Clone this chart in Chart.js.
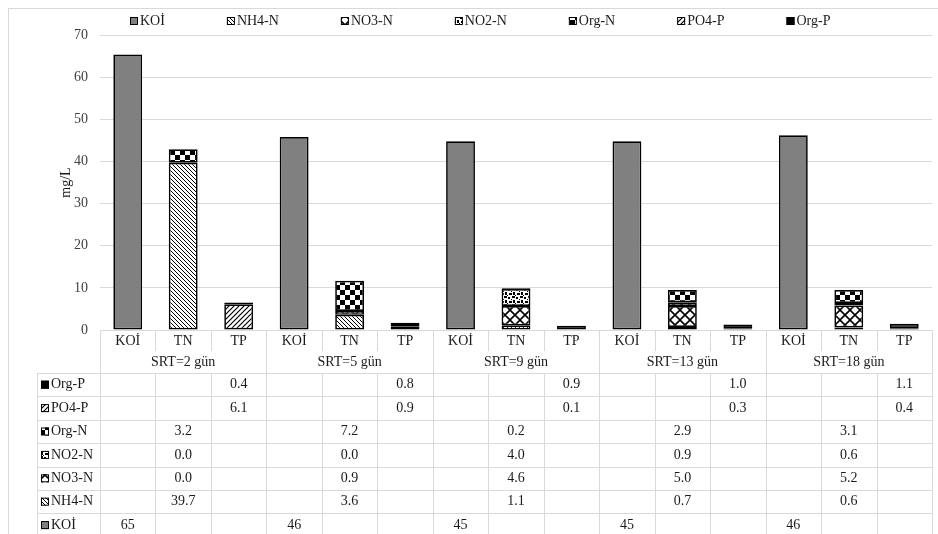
<!DOCTYPE html>
<html>
<head>
<meta charset="utf-8">
<script src="https://cdn.jsdelivr.net/npm/chart.js@4.4.1/dist/chart.umd.min.js"></script>
<style>
  html, body { margin: 0; padding: 0; background: #fff; }
  #wrap { width: 938px; height: 534px; }
</style>
</head>
<body>
<div id="wrap"><canvas id="chart"></canvas></div>
<script>
// data
const groups = ['SRT=2 gün', 'SRT=5 gün', 'SRT=9 gün', 'SRT=13 gün', 'SRT=18 gün'];
const subLabels = ['KOİ', 'TN', 'TP'];
const koi  = [65.4, 45.8, 44.8, 44.8, 46.2];
const nh4n = [39.7, 3.6, 1.1, 0.7, 0.6];
const no3n = [0.0, 0.9, 4.6, 5.0, 5.2];
const no2n = [0.0, 0.0, 4.0, 0.9, 0.6];
const orgN = [3.2, 7.2, 0.2, 2.9, 3.1];
const po4p = [6.1, 0.9, 0.1, 0.3, 0.4];
const orgP = [0.4, 0.8, 0.9, 1.0, 1.1];

const FONT = 'Liberation Serif';
const TEXT = '#1a1a1a';
const GRID = '#d9d9d9';

// fill patterns like the excel ones
function makePattern(size, drawFn) {
    const c = document.createElement('canvas');
    c.width = size; c.height = size;
    const g = c.getContext('2d');
    g.fillStyle = '#fff';
    g.fillRect(0, 0, size, size);
    g.strokeStyle = '#000';
    g.fillStyle = '#000';
    drawFn(g, size);
    return document.createElement('canvas').getContext('2d').createPattern(c, 'repeat');
}

const patNH4 = makePattern(4, (g, s) => {
    g.lineWidth = 1;
    g.beginPath();
    g.moveTo(-1, -1); g.lineTo(s + 1, s + 1);
    g.moveTo(-1, s - 1); g.lineTo(1, s + 1);
    g.moveTo(s - 1, -1); g.lineTo(s + 1, 1);
    g.stroke();
});
const patNO3 = makePattern(10, (g, s) => {
    g.lineWidth = 1.6;
    g.beginPath();
    g.moveTo(0, 0); g.lineTo(s, s);
    g.moveTo(s, 0); g.lineTo(0, s);
    g.stroke();
});
// confetti-like dots
const patNO2 = makePattern(8, (g, s) => {
    g.fillRect(0, 0, 3, 2);
    g.fillRect(4, 1, 2, 2);
    g.fillRect(1, 4, 2, 3);
    g.fillRect(5, 5, 3, 2);
    g.fillRect(7, 3, 1, 1);
    g.fillRect(3, 7, 1, 1);
});
const patOrgN = makePattern(10, (g, s) => {
    g.fillRect(0, 0, 5, 5);
    g.fillRect(5, 5, 5, 5);
});
const patPO4 = makePattern(5, (g, s) => {
    g.lineWidth = 1.2;
    g.beginPath();
    g.moveTo(-1, s + 1); g.lineTo(s + 1, -1);
    g.moveTo(-1, 1); g.lineTo(1, -1);
    g.moveTo(s - 1, s + 1); g.lineTo(s + 1, s - 1);
    g.stroke();
});

// one column per KOİ / TN / TP in each SRT group
const labels = [];
groups.forEach(() => subLabels.forEach(s => labels.push(s)));

function spread(values, slot) {
    const out = [];
    values.forEach(v => {
        for (let k = 0; k < 3; k++) out.push(k === slot ? v : null);
    });
    return out;
}

const series = [
    { label: 'KOİ',   values: koi,  slot: 0, fill: '#808080', digits: 0 },
    { label: 'NH4-N', values: nh4n, slot: 1, fill: patNH4,   digits: 1 },
    { label: 'NO3-N', values: no3n, slot: 1, fill: patNO3,   digits: 1 },
    { label: 'NO2-N', values: no2n, slot: 1, fill: patNO2,   digits: 1 },
    { label: 'Org-N', values: orgN, slot: 1, fill: patOrgN,  digits: 1 },
    { label: 'PO4-P', values: po4p, slot: 2, fill: patPO4,   digits: 1 },
    { label: 'Org-P', values: orgP, slot: 2, fill: '#000',   digits: 1 }
];

const datasets = series.map(s => ({
    label: s.label,
    data: spread(s.values, s.slot),
    backgroundColor: s.fill,
    borderColor: '#000',
    borderWidth: 1.7,
    borderSkipped: false,
    barPercentage: 0.52,
    categoryPercentage: 1.0
}));

function drawKey(ctx, s, x, yMid) {
    ctx.fillStyle = s.fill;
    ctx.fillRect(x, yMid - 4, 8, 8);
    ctx.strokeStyle = '#000';
    ctx.lineWidth = 1;
    ctx.strokeRect(x + 0.5, yMid - 3.5, 7, 7);
}

// frame + legend row (excel style, fixed gaps between items)
const legendPlugin = {
    id: 'topLegend',
    afterDraw(chart) {
        const ctx = chart.ctx;
        ctx.save();
        ctx.strokeStyle = GRID;
        ctx.lineWidth = 1;
        ctx.strokeRect(8.5, 8.5, chart.width, chart.height);

        ctx.font = '14px "' + FONT + '"';
        ctx.textBaseline = 'middle';
        ctx.textAlign = 'left';
        let x = 130;
        const y = 21;
        series.forEach(s => {
            drawKey(ctx, s, x, y);
            ctx.fillStyle = TEXT;
            ctx.fillText(s.label, x + 10, y);
            x += 10 + ctx.measureText(s.label).width + 62;
        });
        ctx.restore();
    }
};

// data table under the plot
const tablePlugin = {
    id: 'dataTable',
    afterDraw(chart) {
        const ctx = chart.ctx;
        const ca = chart.chartArea;
        const xs = chart.scales.x;
        const n = labels.length;
        const cw = (ca.right - ca.left) / n;
        const keyLeft = 37;
        const catTop = ca.bottom;
        const grpTop = catTop + 21;
        const rowsTop = grpTop + 22;
        const rowH = 23.4;
        const rowsBottom = chart.height + 10;

        ctx.save();
        ctx.strokeStyle = GRID;
        ctx.lineWidth = 1;

        // vertical lines
        for (let i = 0; i <= n; i++) {
            const x = Math.round(ca.left + i * cw) + 0.5;
            ctx.beginPath();
            if (i % 3 === 0) {
                ctx.moveTo(x, catTop); ctx.lineTo(x, rowsBottom);
            } else {
                ctx.moveTo(x, catTop); ctx.lineTo(x, grpTop);
                ctx.moveTo(x, rowsTop); ctx.lineTo(x, rowsBottom);
            }
            ctx.stroke();
        }
        ctx.beginPath();
        ctx.moveTo(keyLeft + 0.5, rowsTop); ctx.lineTo(keyLeft + 0.5, rowsBottom);
        ctx.stroke();

        // horizontal lines
        ctx.beginPath();
        ctx.moveTo(ca.left, Math.round(catTop) + 0.5);
        ctx.lineTo(ca.right, Math.round(catTop) + 0.5);
        ctx.stroke();
        const rows = series.slice().reverse();
        for (let r = 0; r <= rows.length; r++) {
            const y = Math.round(rowsTop + r * rowH) + 0.5;
            ctx.beginPath();
            ctx.moveTo(keyLeft, y); ctx.lineTo(ca.right, y);
            ctx.stroke();
        }

        ctx.fillStyle = TEXT;
        ctx.font = '14px "' + FONT + '"';
        ctx.textAlign = 'center';
        ctx.textBaseline = 'middle';

        // category + group labels
        labels.forEach((lab, i) => {
            ctx.fillText(lab, xs.getPixelForValue(i), catTop + 11);
        });
        groups.forEach((g, gi) => {
            const x = (xs.getPixelForValue(gi * 3) + xs.getPixelForValue(gi * 3 + 2)) / 2;
            ctx.fillText(g, x, grpTop + 11);
        });

        // rows
        rows.forEach((s, r) => {
            const yMid = rowsTop + r * rowH + rowH / 2;
            drawKey(ctx, s, 41, yMid);
            ctx.fillStyle = TEXT;
            ctx.textAlign = 'left';
            ctx.fillText(s.label, 51, yMid);
            ctx.textAlign = 'center';
            s.values.forEach((v, gi) => {
                const x = xs.getPixelForValue(gi * 3 + s.slot);
                ctx.fillText(v.toFixed(s.digits), x, yMid);
            });
        });
        ctx.restore();
    }
};

const ctx = document.getElementById('chart').getContext('2d');
new Chart(ctx, {
    type: 'bar',
    data: { labels: labels, datasets: datasets },
    options: {
        responsive: true,
        maintainAspectRatio: false,
        animation: false,
        layout: { padding: { left: 38, right: 6, top: 35, bottom: 204 } },
        plugins: {
            legend: { display: false },
            tooltip: { enabled: false }
        },
        scales: {
            x: {
                stacked: true,
                display: false
            },
            y: {
                stacked: true,
                min: 0,
                max: 70,
                ticks: {
                    stepSize: 10,
                    color: '#404040',
                    padding: 12,
                    font: { family: FONT, size: 14 }
                },
                grid: { color: GRID, drawTicks: false },
                border: { display: false },
                title: {
                    display: true,
                    text: 'mg/L',
                    color: TEXT,
                    padding: { top: 20, bottom: 0 },
                    font: { family: FONT, size: 14 }
                },
                afterFit(scale) { scale.width = 62; }
            }
        }
    },
    plugins: [legendPlugin, tablePlugin]
});
</script>
</body>
</html>
